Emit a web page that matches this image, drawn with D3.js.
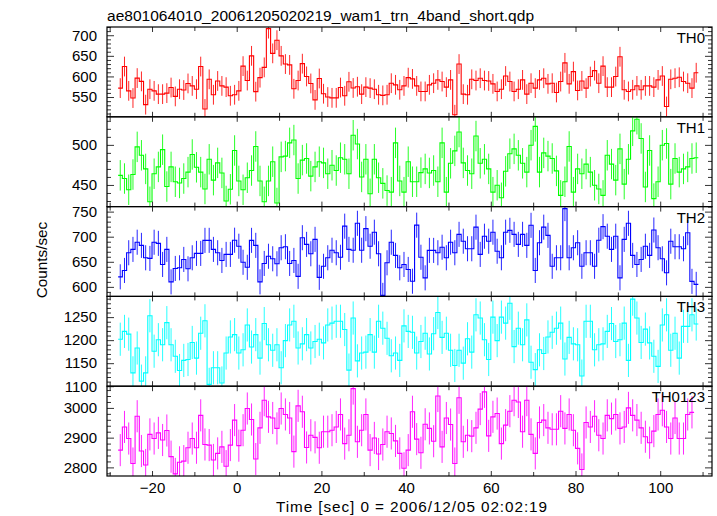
<!DOCTYPE html>
<html>
<head>
<meta charset="utf-8">
<script src="https://cdn.jsdelivr.net/npm/d3@7/dist/d3.min.js"></script>
<style>
  html, body { margin: 0; padding: 0; background: #fff; }
  svg { display: block; }
  text { font-family: "Liberation Sans", Arial, Helvetica, sans-serif; fill: #000; }
</style>
</head>
<body>
<svg id="chart" width="717" height="516"></svg>
<script>
// ---------------- data ----------------
const title = "ae801064010_20061205020219_wam1_trn_4band_short.qdp";
const xLabel = "Time [sec] 0 = 2006/12/05 02:02:19";
const yLabel = "Counts/sec";
const panelNames = ["TH0", "TH1", "TH2", "TH3", "TH0123"];
const binStart = -28;   // first bin start time [s]
const binWidth = 1;     // bin width [s]
const xTickLabels = [-20, 0, 20, 40, 60, 80, 100];

const th0 = [571.6, 624, 565, 547.5, 596, 588, 531.5, 569, 565, 557, 557, 559.5, 573, 551.5, 569, 567, 583, 577, 569,
  624, 521, 593, 555.5, 589, 577, 574, 553, 555.5, 565, 625, 590, 650, 563, 597, 622, 716, 656, 688, 650, 630, 628,
  570, 590, 631, 600, 583, 543, 595, 558, 550, 548, 548, 573, 553, 587, 572, 575,
  557, 574, 571.6, 569, 555.5, 554, 555.5, 583.6, 579.6, 567.6, 577, 597, 594, 577, 563.6, 563.6, 579.6, 583.6, 591.6,
  587.6, 574, 591.6, 507, 630, 557, 555.5, 593, 590, 595.7, 590, 589, 582, 563.6, 569, 601, 587.6, 563.6, 569, 591.6,
  557, 583.6, 571.6, 591.6, 595.7, 582, 583.6, 561, 587.6, 633, 582, 611.7, 566, 589, 571.6, 599.7, 614, 583.6, 625,
  574, 574, 599.7, 647.8, 567.6, 563.6, 567.6, 577, 567.6, 577, 577, 574, 591.6, 601, 527, 593, 595.7, 598, 587.6,
  583.6, 571.6, 609];

const th1 = [462, 458, 444, 463, 497.5, 487, 470, 429, 464, 472.5, 494, 448, 472.5, 454, 452.5, 458, 466, 488, 472, 466,
  445, 482, 456, 477.5, 465, 430, 444.6, 493, 455, 444, 459, 468, 498, 455, 429, 455, 479, 427.5, 485, 486, 502.5, 506,
  458, 481, 483, 461, 472.5, 479, 477.5, 464, 474.6, 468, 484, 482, 464, 512, 501, 460, 482, 439, 482, 459, 452, 443,
  441, 502.5, 455, 441, 479, 454, 454, 465.4, 470, 465, 468, 454, 502.5, 441, 477, 492.5, 516, 477.5, 468, 464, 511,
  477, 482, 470, 441, 449.6, 434, 467, 489, 495, 487, 477, 466, 499.6, 523, 466, 490, 486, 483, 467.5, 437, 454, 498,
  441, 470, 464, 476, 466, 449.6, 445, 437, 487, 476, 456, 495, 451, 482, 517.5, 532, 508, 447.5, 493, 433, 454, 499.6,
  501.7, 451, 483, 466, 470, 472.5, 483, 484];

const th2 = [620, 632.7, 668, 674.7, 689, 682.7, 658, 656.7, 689, 686.7, 644.7, 674.7, 610, 636.7, 638, 654.7, 636, 658,
  666.7, 666.7, 692.7, 692.7, 674.7, 668, 652.7, 664.7, 664.7, 693, 681, 649, 639, 692.7, 682.7, 610, 646.7, 661, 656,
  646, 678, 680, 646.7, 652.7, 621, 698, 684.7, 666, 694.7, 619, 641, 658, 673, 668, 659, 721, 674.7, 673, 726.7, 673,
  716, 681, 709, 666, 583, 648, 689, 662.7, 638, 644.7, 634.7, 611.3, 723, 659, 618, 672.7, 672.7, 668, 679, 658, 689,
  668, 704.7, 691, 676, 676, 719, 664.7, 701, 691, 709, 671, 658, 709, 712.7, 704.7, 684.7, 704.7, 682.7, 722.7, 632.7,
  688, 719, 702.7, 641, 658, 658, 756, 658, 678, 688, 641, 668, 668, 641, 693, 720, 701, 674.7, 701, 618, 694.7, 726.7,
  662.7, 644.7, 654.7, 681, 662.7, 713.3, 678, 656, 628, 691, 680, 680, 676, 708, 611, 605];

const th3 = [1202, 1219, 1213, 1129, 1183, 1111, 1129, 1253, 1176, 1201, 1190, 1238, 1190, 1165, 1134, 1156, 1158, 1195,
  1161, 1215, 1242, 1104, 1140, 1140, 1107, 1172, 1207, 1212, 1172, 1179, 1233, 1185, 1212, 1161, 1236, 1190, 1178,
  1190, 1140, 1199, 1233, 1241, 1183, 1192, 1212, 1183, 1197, 1202, 1194, 1233, 1237, 1241, 1241, 1223, 1135, 1248,
  1155, 1172, 1174, 1212, 1174, 1241, 1226, 1204, 1166, 1172, 1156, 1231, 1219, 1217, 1172, 1197, 1215, 1170, 1214,
  1260, 1206, 1215, 1178, 1145, 1178, 1150, 1203, 1174, 1255, 1248, 1201, 1158, 1250, 1199, 1250, 1237, 1280, 1186,
  1226, 1190, 1244, 1152, 1136, 1179, 1171, 1207, 1217, 1226, 1237, 1159, 1206, 1192, 1190, 1122, 1241, 1241, 1179,
  1190, 1192, 1219, 1236, 1197, 1201, 1237, 1156, 1289, 1248, 1195, 1224, 1194, 1165, 1143, 1233, 1255, 1178, 1215,
  1161, 1230, 1230, 1255, 1235];

const th0123 = [2858, 2936, 2897, 2813, 2972, 2855, 2808, 2911, 2897, 2916, 2892, 2924, 2836, 2778, 2817, 2821, 2866,
  2897, 2866, 2975, 2877, 2875, 2825, 2847, 2869, 2804, 2875, 2959, 2873, 2925, 2998, 2961, 2828, 2933, 3026, 2970,
  2966, 2931, 2998, 2978, 2966, 2853, 3007, 2987, 2867, 2908, 2901, 2866, 2920, 2920, 2925, 2936, 2978, 2880, 2908,
  3065, 2886, 2925, 2978, 2858, 2899, 2845, 2877, 2920, 2914, 2889, 2847, 2797, 2858, 2987, 2895, 2849, 2945, 2931,
  2888, 3040, 2869, 2966, 2944, 2813, 3034, 2886, 2908, 2905, 2933, 2996, 3054, 2906, 2970, 2981, 2880, 2942, 2989,
  3026, 3020, 2920, 3026, 2911, 2847, 2951, 2959, 2933, 2928, 2928, 2989, 2931, 2978, 2925, 2864, 2793, 2951, 2936,
  2972, 2908, 2897, 2975, 2964, 2978, 2931, 2936, 3000, 2975, 2959, 2933, 2903, 2883, 2922, 2978, 2992, 2936, 2897,
  2966, 2897, 2897, 2978, 2985];

// typical 1-sigma error bar half length per panel (counts/sec)
const errHalf = [24, 19, 25, 36, 54];

// y-axis ranges and labelled ticks per panel
const yRanges = [[502, 720], [423, 535], [581, 760], [1100, 1295], [2771, 3073]];
const yTickLabels = [[550, 600, 650, 700], [450, 500], [600, 650, 700, 750], [1100, 1150, 1200, 1250], [2800, 2900, 3000]];
const yMajorStep = [50, 50, 50, 50, 100];
const yMinorStep = [10, 10, 10, 10, 20];

const series = [th0, th1, th2, th3, th0123];
const colors = ["#ff0000", "#00ff00", "#0000ff", "#00ffff", "#ff00ff"];

// ---------------- layout ----------------
(function draw() {
  const pL = 107, pR = 712, pT = 27, pB = 476;
  const panelH = (pB - pT) / series.length;
  const fontSize = 15;
  const fontFam = '"Liberation Sans", Arial, Helvetica, sans-serif';

  const svg = d3.select("#chart");
  const x = d3.scaleLinear().domain([-30.63, 112.23]).range([pL, pR]);

  // title
  svg.append("text").attr("x", pL).attr("y", 20.5)
    .style("font-size", "15.5px")
    .attr("textLength", 427).attr("lengthAdjust", "spacing")
    .text(title);

  // y label
  svg.append("text")
    .attr("transform", "translate(46.5, 260) rotate(-90)")
    .attr("text-anchor", "middle")
    .style("font-size", "15.3px")
    .text(yLabel);

  // x label
  svg.append("text").attr("x", 276).attr("y", 512)
    .style("font-size", "15.3px")
    .attr("textLength", 271).attr("lengthAdjust", "spacing")
    .text(xLabel);

  const majorX = d3.range(-20, 111, 20);
  const minorX = d3.range(-30, 111, 10).filter(v => v % 20 !== 0);

  series.forEach((vals, p) => {
    const y0 = pT + p * panelH, y1 = y0 + panelH;
    const y = d3.scaleLinear().domain(yRanges[p]).range([y1, y0]);
    const g = svg.append("g");

    const clipId = "clip" + p;
    svg.append("clipPath").attr("id", clipId).append("rect")
      .attr("x", pL).attr("y", y0).attr("width", pR - pL).attr("height", panelH);

    const data = vals.map((v, i) => ({ t: binStart + i * binWidth, v }));
    const stepPts = data.concat([{ t: binStart + vals.length * binWidth, v: vals[vals.length - 1] }]);

    const plot = g.append("g").attr("clip-path", `url(#${clipId})`);

    // error bars
    plot.selectAll("line.err").data(data).enter().append("line")
      .attr("class", "err")
      .attr("x1", d => x(d.t + binWidth / 2)).attr("x2", d => x(d.t + binWidth / 2))
      .attr("y1", d => y(d.v - errHalf[p])).attr("y2", d => y(d.v + errHalf[p]))
      .attr("stroke", colors[p]).attr("stroke-width", 1).attr("stroke-opacity", 0.85);

    // step histogram
    const line = d3.line().x(d => x(d.t)).y(d => y(d.v)).curve(d3.curveStepAfter);
    plot.append("path").datum(stepPts).attr("d", line)
      .attr("fill", "none").attr("stroke", colors[p]).attr("stroke-width", 1.1);

    const ms = yMajorStep[p], mn = yMinorStep[p];
    const majorY = d3.range(Math.ceil(yRanges[p][0] / ms) * ms, yRanges[p][1] + 0.001, ms);
    const minorY = d3.range(Math.ceil(yRanges[p][0] / mn) * mn, yRanges[p][1] + 0.001, mn)
      .filter(v => v % ms !== 0);

    const axL = g.append("g").attr("transform", `translate(${pL},0)`)
      .call(d3.axisLeft(y).tickValues(majorY).tickSize(-7).tickPadding(10)
        .tickFormat(v => yTickLabels[p].includes(v) ? String(v) : ""));
    const axLm = g.append("g").attr("transform", `translate(${pL},0)`)
      .call(d3.axisLeft(y).tickValues(minorY).tickSize(-4).tickFormat(""));
    const axR = g.append("g").attr("transform", `translate(${pR},0)`)
      .call(d3.axisRight(y).tickValues(majorY).tickSize(-7).tickFormat(""));
    const axRm = g.append("g").attr("transform", `translate(${pR},0)`)
      .call(d3.axisRight(y).tickValues(minorY).tickSize(-4).tickFormat(""));

    const axT = g.append("g").attr("transform", `translate(0,${y0})`)
      .call(d3.axisTop(x).tickValues(majorX).tickSize(-5).tickFormat(""));
    const axTm = g.append("g").attr("transform", `translate(0,${y0})`)
      .call(d3.axisTop(x).tickValues(minorX).tickSize(-4).tickFormat(""));
    const axB = g.append("g").attr("transform", `translate(0,${y1})`)
      .call(d3.axisBottom(x).tickValues(majorX).tickSize(-5).tickPadding(6)
        .tickFormat(v => (p === series.length - 1 && xTickLabels.includes(v)) ? (v < 0 ? "\u2212" + Math.abs(v) : String(v)) : ""));
    const axBm = g.append("g").attr("transform", `translate(0,${y1})`)
      .call(d3.axisBottom(x).tickValues(minorX).tickSize(-4).tickFormat(""));

    [axL, axLm, axR, axRm, axT, axTm, axB, axBm].forEach(a => {
      a.select(".domain").remove();
      a.selectAll(".tick line").attr("stroke", "#333").attr("stroke-width", 1);
      a.selectAll("text").style("font-size", fontSize + "px")
        .style("font-family", fontFam).attr("fill", "#000");
    });

    // frame
    g.append("rect").attr("x", pL).attr("y", y0).attr("width", pR - pL).attr("height", panelH)
      .attr("fill", "none").attr("stroke", "#000").attr("stroke-width", 1.2);

    // panel name
    g.append("text").attr("x", 705).attr("y", y0 + 16)
      .attr("text-anchor", "end").style("font-size", fontSize + "px").text(panelNames[p]);
  });
})();
</script>
</body>
</html>
